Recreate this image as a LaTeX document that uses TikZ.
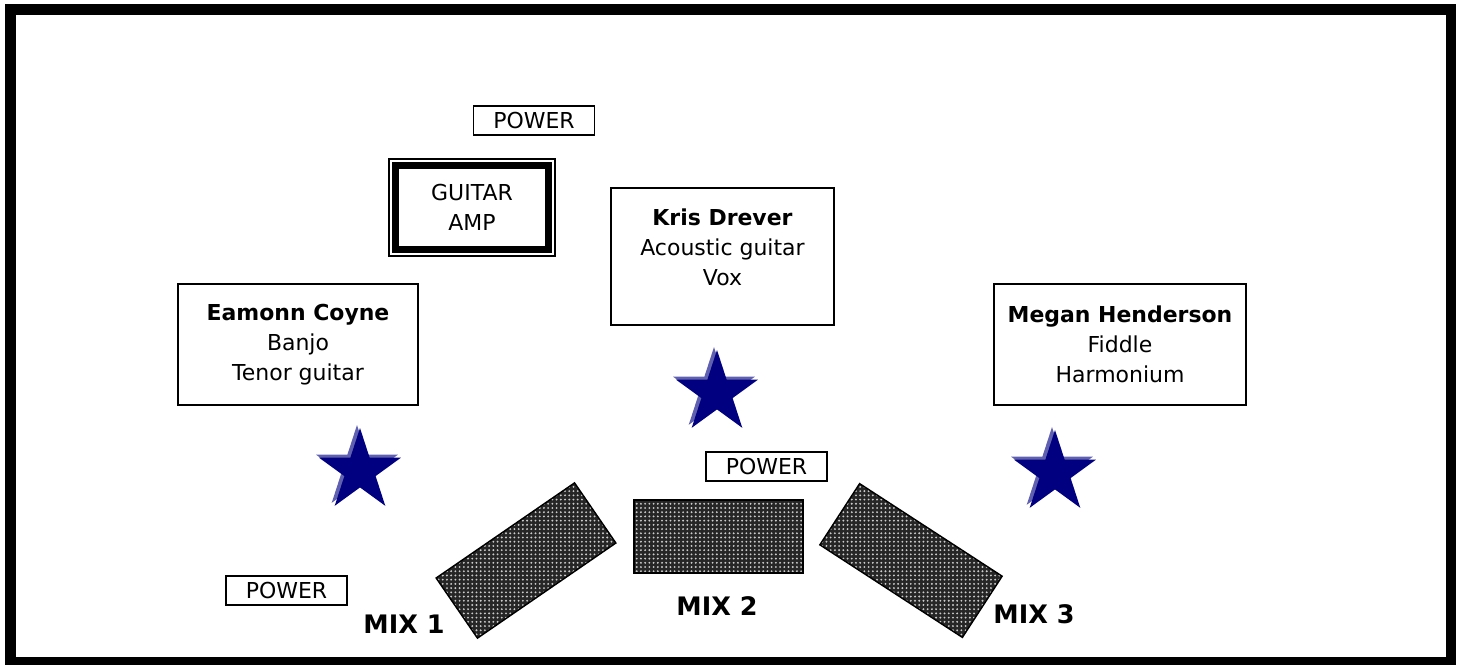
\documentclass[tikz,border=0pt]{standalone}
\usepackage{fontspec}
\setmainfont{DejaVu Sans}
\usetikzlibrary{shapes.geometric,patterns.meta}
\definecolor{starblue}{RGB}{0,0,128}
\definecolor{starshade}{RGB}{96,96,176}

\tikzdeclarepattern{name=meshdots, type=uncolored,
	bounding box={(-1.2pt,-1.2pt) and (1.2pt,1.2pt)},
	tile size={(2.4pt,2.4pt)},
	code={\fill (0pt,0pt) circle [radius=0.6pt];}}

\begin{document}
\begin{tikzpicture}[x=0.02cm, y=-0.02cm,
		every node/.style={font=\fontsize{12.5}{17}\selectfont},
		player/.style={draw, line width=1.1pt, align=center, minimum height=2.42cm},
		power/.style={draw, line width=0.9pt, minimum width=2.42cm, minimum height=0.58cm, inner sep=0},
		mixer/.style={draw, line width=0.8pt, minimum height=1.46cm, preaction={fill=black!85}, pattern=meshdots, pattern color=white!80!black},
		mixlabel/.style={font=\fontsize{14.5}{17}\selectfont\bfseries},
		monitor/.style={star, star points=5, star point ratio=2.618, minimum size=1.72cm, inner sep=0, fill=starblue}]
		
		\useasboundingbox (0,0) rectangle (1461,664);
		\draw[line width=6.2pt] (10.5,9.5) rectangle (1451,662.5);
		
		\node [power] (power1) at (534,120.5) {POWER};
		\node [power] (power2) at (766.5,466.5) {POWER};
		\node [power] (power3) at (286.5,590.5) {POWER};
		
		\node [draw, line width=0.6pt, align=center, minimum width=3.32cm, minimum height=1.94cm] (amp) at (472,207.5) {GUITAR\\AMP};
		\draw [line width=4.1pt] ([shift={(7.4,7.4)}]amp.north west) rectangle ([shift={(-7.4,-7.4)}]amp.south east);
		
		\node [player, minimum width=4.8cm] (eamonn) at (298,344.5) {\textbf{Eamonn Coyne}\\Banjo\\Tenor guitar};
		\node [player, minimum width=4.46cm, minimum height=2.74cm] (kris) at (722.5,256.5) {\textbf{Kris Drever}\\Acoustic guitar\\Vox\\[-6pt]\mbox{}};
		\node [player, minimum width=5.04cm] (megan) at (1120,344.5) {\textbf{Megan Henderson}\\Fiddle\\Harmonium};
		
		% monitors with their shadow
		\node [monitor, fill=starshade] (star1s) at (357,468) {};
		\node [monitor] (star1) at (360,471) {};
		\node [monitor, fill=starshade] (star2s) at (714,390) {};
		\node [monitor] (star2) at (717,393) {};
		\node [monitor, fill=starshade] (star3s) at (1052,470) {};
		\node [monitor] (star3) at (1055,473) {};
		
		\node [mixer, rotate=34.5, minimum width=3.36cm] (mix1) at (526,560.5) {};
		\node [mixer, minimum width=3.38cm] (mix2) at (718.5,536.5) {};
		\node [mixer, rotate=-33, minimum width=3.4cm] (mix3) at (911,560.5) {};
		
		\node [mixlabel] (mix1label) at (404,624) {MIX 1};
		\node [mixlabel] (mix2label) at (717,606) {MIX 2};
		\node [mixlabel] (mix3label) at (1034,614) {MIX 3};
		
	\end{tikzpicture}
\end{document}
